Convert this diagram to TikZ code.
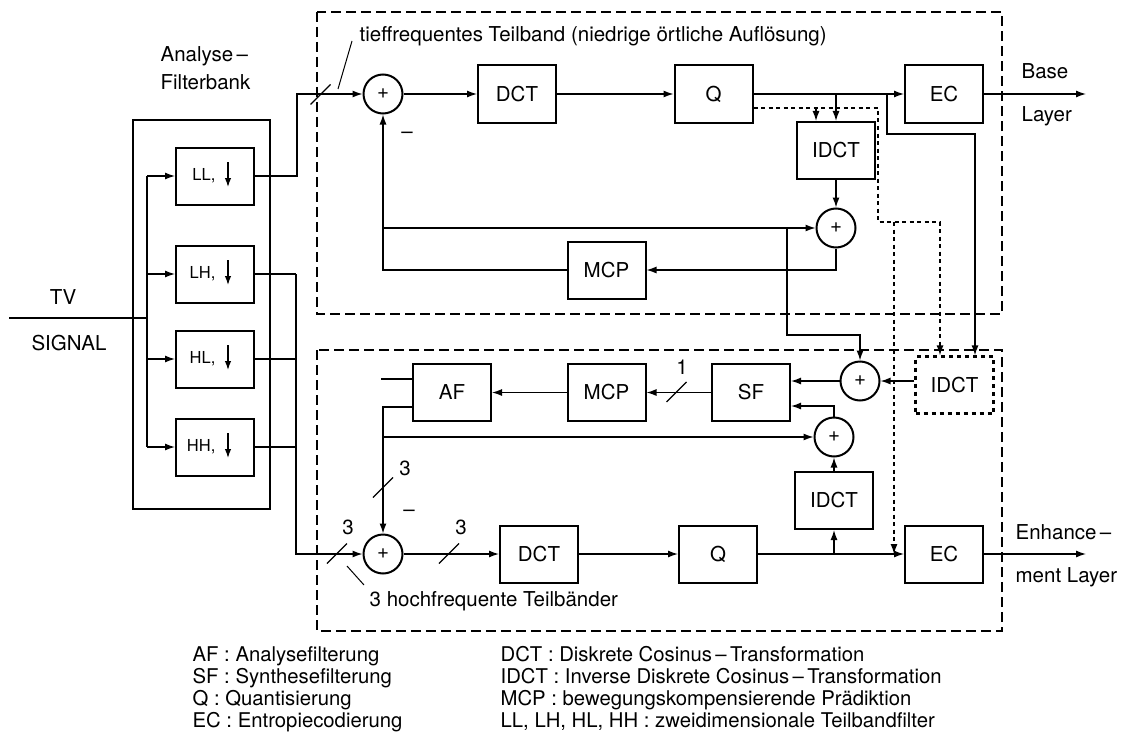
\documentclass[tikz,border=0pt]{standalone}
\usepackage{fontspec}
\setmainfont{TeX Gyre Heros}
\usetikzlibrary{arrows.meta,calc}
\tikzset{
  block/.style={draw,line width=2pt,minimum width=78pt,minimum height=57pt,inner sep=0pt,font=\fontsize{20.5}{24}\selectfont},
  summe/.style={draw,circle,line width=2pt,minimum size=39pt,inner sep=0pt,font=\fontsize{20.5}{24}\selectfont},
  pfeil/.style={-{Latex[length=10pt,width=7pt]}},
  rahmen/.style={dash pattern=on 10pt off 5pt,line width=1.3pt},
  fein/.style={dash pattern=on 4pt off 3.5pt,line width=1.3pt},
  txt/.style={inner sep=0pt,font=\fontsize{20.5}{24}\selectfont},
  legende/.style={inner sep=0pt,anchor=base west,font=\fontsize{20.3}{24}\selectfont},
}
\begin{document}
\begin{tikzpicture}[x=1pt,y=-1pt,line width=1.3pt]
\useasboundingbox (0,0) rectangle (1123,733);
\node[txt,anchor=west] at (160,56) {Analyse\,–};
\node[txt,anchor=west] at (160,82) {Filterbank};
\node[draw,line width=2pt,minimum width=137pt,minimum height=389pt] (fb) at (201.5,314.5) {};
\node[txt] at (63,297) {TV};
\node[txt] at (69,343) {SIGNAL};
\coordinate (verteil) at (147,318);
\draw (9,318) -- (verteil);
\foreach \nm/\yy in {LL/176,LH/274,HL/359,HH/447}{
  \node[block] (\nm) at (215,\yy) {};
  \node[txt,anchor=east,font=\fontsize{16.5}{18}\selectfont] at ([xshift=1pt]\nm.center) {\nm,};
  \draw[-{Latex[length=9pt,width=6.5pt]}] ([shift={(13,-14)}]\nm.center) -- ++(0,25);
  \draw[pfeil] (verteil |- \nm.west) -- (\nm.west);
}
\draw (verteil |- LL.west) -- (verteil |- HH.west);
\draw[rahmen] (317,12) rectangle (1002,314);
\draw[rahmen] (317,350) rectangle (1002,631);
\node[txt,anchor=west] (tief) at (359,36) {tieffrequentes Teilband (niedrige örtliche Auflösung)};
\draw[line width=1pt] (352,41) -- (338,89);
\node[summe] (sa) at (383,94) {+};
\node[block] (dcta) at (517,94) {DCT};
\node[block] (qa) at (713.5,94) {Q};
\node[block] (eca) at (944,94) {EC};
\node[block] (idcta) at (836,150.5) {IDCT};
\node[summe] (sb) at (836,228) {+};
\node[block] (mcpa) at (606.5,270) {MCP};
\node[txt] at (407,135) {–};
\node[txt,anchor=west] at (1021,71) {Base};
\node[txt,anchor=west] at (1021,116) {Layer};
\draw[pfeil] (LL.east) -- ++(42,0) |- (sa.west);
\draw[shift={(320.5,94.5)}] (-10,10) -- (10,-10);
\draw[pfeil] (sa.east) -- (dcta.west);
\draw[pfeil] (dcta.east) -- (qa.west);
\draw[pfeil] (qa.east) -- (eca.west);
\draw[pfeil] (eca.east) -- (1086,94);
\draw[pfeil] (qa.east -| idcta.north) -- (idcta.north);
\draw[pfeil] (idcta.south) -- (sb.north);
\draw[pfeil] (sb.south) |- (mcpa.east);
\draw[pfeil] (mcpa.west) -| (sa.south);
\draw[pfeil] (sa.south |- sb.west) -- (sb.west);
\node[block,line width=2.2pt,dash pattern=on 4pt off 4pt] (idcte) at (954.5,385) {IDCT};
\draw[pfeil] (qa.east -| 887,0) |- (975,134) -- (975,0 |- idcte.north);
\draw[fein,pfeil] ([yshift=-14pt]qa.east) -| (878,222) -| (940,0 |- idcte.north);
\draw[fein,pfeil] (816,108) -- (816,0 |- idcta.north);
\node[summe] (sc) at (860,381) {+};
\node[block] (sf) at (751,392.5) {SF};
\node[summe] (sd) at (834,437) {+};
\node[block] (idctb) at (834,500.5) {IDCT};
\node[block] (mcpb) at (606.5,392.5) {MCP};
\node[block] (af) at (452,392.5) {AF};
\node[summe] (se) at (383,554) {+};
\node[block] (dctb) at (539,554) {DCT};
\node[block] (qb) at (718,554) {Q};
\node[block] (ecb) at (944,554) {EC};
\draw[fein,pfeil] (894,222) -- (894,0 |- ecb.west);
\draw[pfeil] (idcte.west |- sc.east) -- (sc.east);
\draw[pfeil] (sc.west) -- (sc.west -| sf.east);
\draw[pfeil] (sd.north) |- ([yshift=-13.5pt]sf.east);
\draw[pfeil] (idctb.north) -- (sd.south);
\draw[pfeil] (qb.east -| idctb.south) -- (idctb.south);
\draw[pfeil] (se.east) -- (dctb.west);
\draw[pfeil] (dctb.east) -- (qb.west);
\draw[pfeil] (qb.east) -- (ecb.west);
\draw[pfeil] (ecb.east) -- (1086,554);
\draw[pfeil] (sf.west) -- (mcpb.east);
\draw[pfeil] (mcpb.west) -- (af.east);
\draw ([yshift=13.5pt]af.west) -- ++(-31,0);
\draw[pfeil] ([yshift=-14.5pt]af.west) -| (se.north);
\draw[pfeil] (se.north |- sd.west) -- (sd.west);
\draw[pfeil] (sb.west -| 787,0) |- (860,335) -- (sc.north);
\coordinate (sammel) at (296,274);
\draw (LH.east) -- (sammel);
\draw (HL.east) -- (sammel |- HL.east);
\draw (HH.east) -- (sammel |- HH.east);
\draw[pfeil] (sammel) |- (se.west);
\draw[shift={(337,553.5)}] (-10,10) -- (10,-10);
\draw[shift={(449,553.5)}] (-10,10) -- (10,-10);
\draw[shift={(383,487.5)}] (-10,10) -- (10,-10);
\draw[shift={(676.5,392)}] (-10,10) -- (10,-10);
\node[txt] at (348,527) {3};
\node[txt] at (461,527) {3};
\node[txt] at (405,468) {3};
\node[txt] at (682,367) {1};
\node[txt] at (409,513) {–};
\draw[line width=1pt] (347,566) -- (364,585);
\node[txt,anchor=west] at (369,601) {3 hochfrequente Teilbänder};
\node[txt,anchor=west] at (1015,532) {Enhance\,–};
\node[txt,anchor=west] at (1015,577) {ment Layer};
\node[legende] at (192,661) {AF : Analysefilterung};
\node[legende] at (192,683) {SF : Synthesefilterung};
\node[legende] at (192,705) {Q : Quantisierung};
\node[legende] at (192,727) {EC : Entropiecodierung};
\node[legende] at (500,661) {DCT : Diskrete Cosinus\,–\,Transformation};
\node[legende] at (500,683) {IDCT : Inverse Diskrete Cosinus\,–\,Transformation};
\node[legende] at (500,705) {MCP : bewegungskompensierende Prädiktion};
\node[legende] at (500,727) {LL, LH, HL, HH : zweidimensionale Teilbandfilter};
\end{tikzpicture}
\end{document}
